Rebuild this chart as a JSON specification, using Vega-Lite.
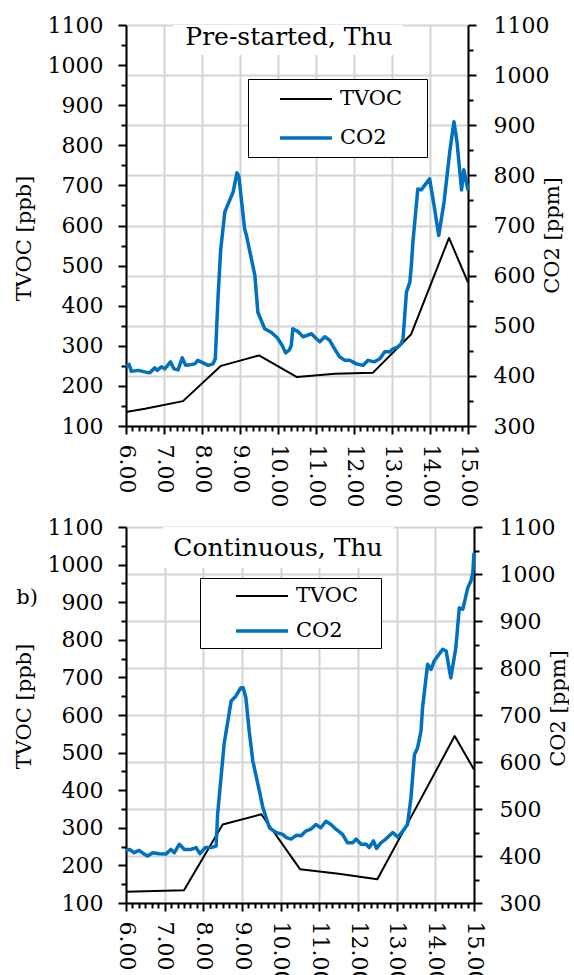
{
  "$schema": "https://vega.github.io/schema/vega-lite/v6.json",
  "background": "white",
  "padding": {"left": 13, "top": 14, "right": 0, "bottom": 0},
  "spacing": 9,
  "config": {
    "font": "DejaVu Serif",
    "view": {"stroke": null},
    "axis": {
      "labelFont": "DejaVu Serif", "labelFontSize": 22, "labelColor": "black",
      "titleFont": "DejaVu Serif", "titleFontSize": 21, "titleFontWeight": "normal", "titleColor": "black",
      "domainColor": "black", "domainWidth": 2, "tickColor": "black", "tickWidth": 2,
      "gridColor": "#d4d4d4", "gridWidth": 2, "labelOverlap": false, "labelFlush": false
    },
    "line": {"strokeJoin": "round", "strokeCap": "butt"}
  },
  "datasets": {
    "blank": [{"k": 1}],
    "a_title": [{"t": "Pre-started, Thu"}],
    "b_title": [{"t": "Continuous, Thu"}],
    "b_label": [{"t": "b)"}],
    "a_tvoc": [
      {"h": 6.0, "v": 135, "s": "TVOC"}, {"h": 6.5, "v": 143, "s": "TVOC"}, {"h": 7.5, "v": 162, "s": "TVOC"},
      {"h": 8.5, "v": 250, "s": "TVOC"}, {"h": 9.5, "v": 276, "s": "TVOC"}, {"h": 10.5, "v": 222, "s": "TVOC"},
      {"h": 11.5, "v": 230, "s": "TVOC"}, {"h": 12.5, "v": 233, "s": "TVOC"}, {"h": 13.5, "v": 328, "s": "TVOC"},
      {"h": 14.5, "v": 569, "s": "TVOC"}, {"h": 15.0, "v": 458, "s": "TVOC"}
    ],
    "a_co2": [
      {"h": 6.00, "v": 418, "s": "CO2"}, {"h": 6.08, "v": 423, "s": "CO2"}, {"h": 6.14, "v": 409, "s": "CO2"},
      {"h": 6.32, "v": 411, "s": "CO2"}, {"h": 6.49, "v": 408, "s": "CO2"}, {"h": 6.62, "v": 406, "s": "CO2"},
      {"h": 6.76, "v": 416, "s": "CO2"}, {"h": 6.82, "v": 411, "s": "CO2"}, {"h": 6.93, "v": 418, "s": "CO2"},
      {"h": 7.02, "v": 414, "s": "CO2"}, {"h": 7.17, "v": 428, "s": "CO2"}, {"h": 7.26, "v": 414, "s": "CO2"},
      {"h": 7.37, "v": 412, "s": "CO2"}, {"h": 7.48, "v": 436, "s": "CO2"}, {"h": 7.57, "v": 421, "s": "CO2"},
      {"h": 7.68, "v": 422, "s": "CO2"}, {"h": 7.81, "v": 424, "s": "CO2"}, {"h": 7.89, "v": 431, "s": "CO2"},
      {"h": 8.03, "v": 426, "s": "CO2"}, {"h": 8.16, "v": 421, "s": "CO2"}, {"h": 8.29, "v": 424, "s": "CO2"},
      {"h": 8.35, "v": 434, "s": "CO2"}, {"h": 8.42, "v": 554, "s": "CO2"}, {"h": 8.49, "v": 650, "s": "CO2"},
      {"h": 8.60, "v": 727, "s": "CO2"}, {"h": 8.82, "v": 767, "s": "CO2"}, {"h": 8.92, "v": 805, "s": "CO2"},
      {"h": 8.97, "v": 798, "s": "CO2"}, {"h": 9.12, "v": 694, "s": "CO2"}, {"h": 9.17, "v": 680, "s": "CO2"},
      {"h": 9.39, "v": 601, "s": "CO2"}, {"h": 9.47, "v": 527, "s": "CO2"}, {"h": 9.65, "v": 494, "s": "CO2"},
      {"h": 9.82, "v": 487, "s": "CO2"}, {"h": 9.98, "v": 476, "s": "CO2"}, {"h": 10.10, "v": 462, "s": "CO2"},
      {"h": 10.20, "v": 446, "s": "CO2"}, {"h": 10.30, "v": 452, "s": "CO2"}, {"h": 10.35, "v": 461, "s": "CO2"},
      {"h": 10.39, "v": 494, "s": "CO2"}, {"h": 10.53, "v": 488, "s": "CO2"}, {"h": 10.66, "v": 478, "s": "CO2"},
      {"h": 10.88, "v": 484, "s": "CO2"}, {"h": 11.01, "v": 474, "s": "CO2"}, {"h": 11.10, "v": 468, "s": "CO2"},
      {"h": 11.23, "v": 478, "s": "CO2"}, {"h": 11.36, "v": 471, "s": "CO2"}, {"h": 11.49, "v": 454, "s": "CO2"},
      {"h": 11.62, "v": 438, "s": "CO2"}, {"h": 11.76, "v": 431, "s": "CO2"}, {"h": 11.89, "v": 431, "s": "CO2"},
      {"h": 12.06, "v": 424, "s": "CO2"}, {"h": 12.24, "v": 421, "s": "CO2"}, {"h": 12.37, "v": 431, "s": "CO2"},
      {"h": 12.54, "v": 428, "s": "CO2"}, {"h": 12.68, "v": 434, "s": "CO2"}, {"h": 12.81, "v": 448, "s": "CO2"},
      {"h": 12.94, "v": 448, "s": "CO2"}, {"h": 13.03, "v": 454, "s": "CO2"}, {"h": 13.16, "v": 458, "s": "CO2"},
      {"h": 13.24, "v": 464, "s": "CO2"}, {"h": 13.29, "v": 474, "s": "CO2"}, {"h": 13.38, "v": 567, "s": "CO2"},
      {"h": 13.47, "v": 587, "s": "CO2"}, {"h": 13.51, "v": 621, "s": "CO2"}, {"h": 13.55, "v": 667, "s": "CO2"},
      {"h": 13.68, "v": 773, "s": "CO2"}, {"h": 13.77, "v": 771, "s": "CO2"}, {"h": 13.99, "v": 793, "s": "CO2"},
      {"h": 14.12, "v": 734, "s": "CO2"}, {"h": 14.23, "v": 680, "s": "CO2"}, {"h": 14.37, "v": 747, "s": "CO2"},
      {"h": 14.52, "v": 847, "s": "CO2"}, {"h": 14.63, "v": 907, "s": "CO2"}, {"h": 14.71, "v": 867, "s": "CO2"},
      {"h": 14.83, "v": 771, "s": "CO2"}, {"h": 14.89, "v": 811, "s": "CO2"}, {"h": 15.00, "v": 770, "s": "CO2"}
    ],
    "b_tvoc": [
      {"h": 6.0, "v": 130, "s": "TVOC"}, {"h": 6.5, "v": 131, "s": "TVOC"}, {"h": 7.5, "v": 134, "s": "TVOC"},
      {"h": 8.5, "v": 309, "s": "TVOC"}, {"h": 9.5, "v": 336, "s": "TVOC"}, {"h": 10.5, "v": 190, "s": "TVOC"},
      {"h": 11.5, "v": 178, "s": "TVOC"}, {"h": 12.5, "v": 163, "s": "TVOC"}, {"h": 13.5, "v": 353, "s": "TVOC"},
      {"h": 14.5, "v": 544, "s": "TVOC"}, {"h": 15.0, "v": 455, "s": "TVOC"}
    ],
    "b_co2": [
      {"h": 6.00, "v": 411, "s": "CO2"}, {"h": 6.09, "v": 414, "s": "CO2"}, {"h": 6.21, "v": 407, "s": "CO2"},
      {"h": 6.34, "v": 412, "s": "CO2"}, {"h": 6.45, "v": 405, "s": "CO2"}, {"h": 6.56, "v": 400, "s": "CO2"},
      {"h": 6.69, "v": 407, "s": "CO2"}, {"h": 6.86, "v": 405, "s": "CO2"}, {"h": 7.03, "v": 404, "s": "CO2"},
      {"h": 7.16, "v": 414, "s": "CO2"}, {"h": 7.25, "v": 407, "s": "CO2"}, {"h": 7.38, "v": 425, "s": "CO2"},
      {"h": 7.51, "v": 414, "s": "CO2"}, {"h": 7.68, "v": 414, "s": "CO2"}, {"h": 7.81, "v": 418, "s": "CO2"},
      {"h": 7.91, "v": 405, "s": "CO2"}, {"h": 8.05, "v": 418, "s": "CO2"}, {"h": 8.20, "v": 418, "s": "CO2"},
      {"h": 8.33, "v": 421, "s": "CO2"}, {"h": 8.37, "v": 489, "s": "CO2"}, {"h": 8.54, "v": 640, "s": "CO2"},
      {"h": 8.72, "v": 730, "s": "CO2"}, {"h": 8.84, "v": 740, "s": "CO2"}, {"h": 8.97, "v": 758, "s": "CO2"},
      {"h": 9.03, "v": 758, "s": "CO2"}, {"h": 9.10, "v": 737, "s": "CO2"}, {"h": 9.19, "v": 663, "s": "CO2"},
      {"h": 9.28, "v": 602, "s": "CO2"}, {"h": 9.45, "v": 538, "s": "CO2"}, {"h": 9.54, "v": 503, "s": "CO2"},
      {"h": 9.71, "v": 460, "s": "CO2"}, {"h": 9.88, "v": 450, "s": "CO2"}, {"h": 10.05, "v": 446, "s": "CO2"},
      {"h": 10.15, "v": 439, "s": "CO2"}, {"h": 10.27, "v": 436, "s": "CO2"}, {"h": 10.40, "v": 444, "s": "CO2"},
      {"h": 10.53, "v": 443, "s": "CO2"}, {"h": 10.65, "v": 453, "s": "CO2"}, {"h": 10.78, "v": 457, "s": "CO2"},
      {"h": 10.91, "v": 467, "s": "CO2"}, {"h": 11.04, "v": 460, "s": "CO2"}, {"h": 11.17, "v": 474, "s": "CO2"},
      {"h": 11.30, "v": 467, "s": "CO2"}, {"h": 11.43, "v": 457, "s": "CO2"}, {"h": 11.60, "v": 446, "s": "CO2"},
      {"h": 11.73, "v": 428, "s": "CO2"}, {"h": 11.86, "v": 428, "s": "CO2"}, {"h": 11.95, "v": 436, "s": "CO2"},
      {"h": 12.08, "v": 425, "s": "CO2"}, {"h": 12.21, "v": 425, "s": "CO2"}, {"h": 12.29, "v": 418, "s": "CO2"},
      {"h": 12.40, "v": 432, "s": "CO2"}, {"h": 12.48, "v": 416, "s": "CO2"}, {"h": 12.59, "v": 428, "s": "CO2"},
      {"h": 12.72, "v": 436, "s": "CO2"}, {"h": 12.90, "v": 450, "s": "CO2"}, {"h": 13.03, "v": 440, "s": "CO2"},
      {"h": 13.16, "v": 453, "s": "CO2"}, {"h": 13.28, "v": 467, "s": "CO2"}, {"h": 13.37, "v": 524, "s": "CO2"},
      {"h": 13.46, "v": 616, "s": "CO2"}, {"h": 13.54, "v": 630, "s": "CO2"}, {"h": 13.63, "v": 666, "s": "CO2"},
      {"h": 13.67, "v": 716, "s": "CO2"}, {"h": 13.80, "v": 808, "s": "CO2"}, {"h": 13.89, "v": 797, "s": "CO2"},
      {"h": 13.97, "v": 815, "s": "CO2"}, {"h": 14.19, "v": 840, "s": "CO2"}, {"h": 14.28, "v": 836, "s": "CO2"},
      {"h": 14.40, "v": 779, "s": "CO2"}, {"h": 14.53, "v": 843, "s": "CO2"}, {"h": 14.62, "v": 928, "s": "CO2"},
      {"h": 14.71, "v": 925, "s": "CO2"}, {"h": 14.84, "v": 971, "s": "CO2"}, {"h": 14.92, "v": 985, "s": "CO2"},
      {"h": 14.97, "v": 1003, "s": "CO2"}, {"h": 15.00, "v": 1045, "s": "CO2"}
    ]
  },
  "resolve": {"scale": {"color": "independent", "strokeWidth": "independent", "x": "independent", "y": "independent"}, "legend": {"color": "independent", "strokeWidth": "independent"}},
  "vconcat": [
    {
      "width": 342, "height": 401,
      "resolve": {"scale": {"y": "independent"}},
      "layer": [
        {
          "data": {"name": "blank"},
          "mark": {"type": "rect", "fill": "white"},
          "encoding": {
            "x": {"datum": 7.24, "type": "quantitative", "scale": {"domain": [6, 15], "nice": false}, "title": null},
            "x2": {"datum": 13.29},
            "y": {"datum": 1100, "type": "quantitative", "scale": {"domain": [100, 1100], "nice": false}, "axis": null},
            "y2": {"datum": 1025}
          }
        },
        {
          "data": {"name": "a_title"},
          "mark": {"type": "text", "fontSize": 25, "font": "DejaVu Serif", "baseline": "alphabetic", "align": "center", "color": "black"},
          "encoding": {
            "x": {"datum": 10.29, "type": "quantitative", "title": null},
            "y": {"datum": 1050, "type": "quantitative", "scale": {"domain": [100, 1100], "nice": false}, "axis": null},
            "text": {"field": "t"}
          }
        },
        {
          "data": {"name": "a_tvoc"},
          "mark": {"type": "line"},
          "encoding": {
            "x": {"field": "h", "type": "quantitative", "scale": {"domain": [6, 15], "nice": false},
              "axis": {
                "title": null, "grid": true, "labelOverlap": false, "labelFlush": false, "labelBound": false, "tickCount": 200,
                "values": [6,6.1667,6.3333,6.5,6.6667,6.8333,7,7.1667,7.3333,7.5,7.6667,7.8333,8,8.1667,8.3333,8.5,8.6667,8.8333,9,9.1667,9.3333,9.5,9.6667,9.8333,10,10.1667,10.3333,10.5,10.6667,10.8333,11,11.1667,11.3333,11.5,11.6667,11.8333,12,12.1667,12.3333,12.5,12.6667,12.8333,13,13.1667,13.3333,13.5,13.6667,13.8333,14,14.1667,14.3333,14.5,14.6667,14.8333,15],
                "labelExpr": "abs(datum.value - round(datum.value)) < 0.01 ? format(datum.value, '.2f') : ''",
                "labelAngle": 90, "labelPadding": 10,
                "tickSize": {"condition": {"test": "abs(datum.value - round(datum.value)) < 0.01", "value": 8}, "value": 5},
                "gridOpacity": {"condition": {"test": "abs(datum.value - round(datum.value)) < 0.01", "value": 1}, "value": 0}
              }
            },
            "y": {"field": "v", "type": "quantitative", "scale": {"domain": [100, 1100], "nice": false},
              "axis": {
                "orient": "left", "grid": false, "title": "TVOC [ppb]", "titlePadding": 13, "titleY": 213, "labelOverlap": false, "tickCount": 200,
                "values": [100,150,200,250,300,350,400,450,500,550,600,650,700,750,800,850,900,950,1000,1050,1100],
                "format": "d",
                "labelExpr": "datum.value % 100 === 0 ? datum.label : ''",
                "labelPadding": 15,
                "tickSize": {"condition": {"test": "datum.value % 100 === 0", "value": 8}, "value": 5}
              }
            },
            "color": {"field": "s", "type": "nominal",
              "scale": {"domain": ["TVOC", "CO2"], "range": ["black", "#0070C0"]},
              "legend": {
                "orient": "none", "legendX": 122, "legendY": 54, "title": null,
                "symbolType": "M-2.6,0H2.6", "symbolSize": 400, "symbolOffset": 37,
                "labelOffset": 22, "labelFontSize": 21, "labelFont": "DejaVu Serif", "labelColor": "black",
                "padding": 9, "rowPadding": 17, "strokeColor": "black", "fillColor": "white",
                "labelExpr": "datum.label + '\u2800'"
              }
            },
            "strokeWidth": {"field": "s", "type": "nominal",
              "scale": {"type": "point", "padding": 0, "domain": ["TVOC", "CO2"], "range": [2, 3.5]}}
          }
        },
        {
          "data": {"name": "a_co2"},
          "mark": {"type": "line"},
          "encoding": {
            "x": {"field": "h", "type": "quantitative", "title": null},
            "y": {"field": "v", "type": "quantitative", "scale": {"domain": [300, 1100], "nice": false},
              "axis": {
                "orient": "right", "grid": true, "title": "CO2 [ppm]", "titleAngle": 270, "titleBaseline": "top", "titlePadding": -7, "titleY": 210, "labelOverlap": false, "tickCount": 200,
                "values": [300,350,400,450,500,550,600,650,700,750,800,850,900,950,1000,1050,1100],
                "format": "d",
                "labelExpr": "datum.value % 100 === 0 ? datum.label : ''",
                "labelPadding": 17,
                "tickSize": {"condition": {"test": "datum.value % 100 === 0", "value": 8}, "value": 5},
                "gridOpacity": {"condition": {"test": "datum.value % 100 === 0", "value": 1}, "value": 0}
              }
            },
            "color": {"field": "s", "type": "nominal"},
            "strokeWidth": {"field": "s", "type": "nominal"}
          }
        }
      ]
    },
    {
      "width": 348, "height": 376,
      "resolve": {"scale": {"y": "independent"}},
      "layer": [
        {
          "data": {"name": "blank"},
          "mark": {"type": "rect", "fill": "white"},
          "encoding": {
            "x": {"datum": 6.96, "type": "quantitative", "scale": {"domain": [6, 15], "nice": false}, "title": null},
            "x2": {"datum": 12.93},
            "y": {"datum": 1100, "type": "quantitative", "scale": {"domain": [100, 1100], "nice": false}, "axis": null},
            "y2": {"datum": 991}
          }
        },
        {
          "data": {"name": "b_title"},
          "mark": {"type": "text", "fontSize": 25, "font": "DejaVu Serif", "baseline": "alphabetic", "align": "center", "color": "black"},
          "encoding": {
            "x": {"datum": 9.93, "type": "quantitative", "title": null},
            "y": {"datum": 1023, "type": "quantitative", "scale": {"domain": [100, 1100], "nice": false}, "axis": null},
            "text": {"field": "t"}
          }
        },
        {
          "data": {"name": "b_label"},
          "mark": {"type": "text", "fontSize": 21, "font": "DejaVu Serif", "baseline": "middle", "align": "center", "color": "black"},
          "encoding": {
            "x": {"datum": 3.44, "type": "quantitative", "title": null},
            "y": {"datum": 911, "type": "quantitative", "scale": {"domain": [100, 1100], "nice": false}, "axis": null},
            "text": {"field": "t"}
          }
        },
        {
          "data": {"name": "b_tvoc"},
          "mark": {"type": "line"},
          "encoding": {
            "x": {"field": "h", "type": "quantitative", "scale": {"domain": [6, 15], "nice": false},
              "axis": {
                "title": null, "grid": true, "labelOverlap": false, "labelFlush": false, "labelBound": false, "tickCount": 200,
                "values": [6,6.1667,6.3333,6.5,6.6667,6.8333,7,7.1667,7.3333,7.5,7.6667,7.8333,8,8.1667,8.3333,8.5,8.6667,8.8333,9,9.1667,9.3333,9.5,9.6667,9.8333,10,10.1667,10.3333,10.5,10.6667,10.8333,11,11.1667,11.3333,11.5,11.6667,11.8333,12,12.1667,12.3333,12.5,12.6667,12.8333,13,13.1667,13.3333,13.5,13.6667,13.8333,14,14.1667,14.3333,14.5,14.6667,14.8333,15],
                "labelExpr": "abs(datum.value - round(datum.value)) < 0.01 ? format(datum.value, '.2f') : ''",
                "labelAngle": 90, "labelPadding": 10,
                "tickSize": {"condition": {"test": "abs(datum.value - round(datum.value)) < 0.01", "value": 8}, "value": 5},
                "gridOpacity": {"condition": {"test": "abs(datum.value - round(datum.value)) < 0.01", "value": 1}, "value": 0}
              }
            },
            "y": {"field": "v", "type": "quantitative", "scale": {"domain": [100, 1100], "nice": false},
              "axis": {
                "orient": "left", "grid": false, "title": "TVOC [ppb]", "titlePadding": 13, "titleY": 179, "labelOverlap": false, "tickCount": 200,
                "values": [100,150,200,250,300,350,400,450,500,550,600,650,700,750,800,850,900,950,1000,1050,1100],
                "format": "d",
                "labelExpr": "datum.value % 100 === 0 ? datum.label : ''",
                "labelPadding": 15,
                "tickSize": {"condition": {"test": "datum.value % 100 === 0", "value": 8}, "value": 5}
              }
            },
            "color": {"field": "s", "type": "nominal",
              "scale": {"domain": ["TVOC", "CO2"], "range": ["black", "#0070C0"]},
              "legend": {
                "orient": "none", "legendX": 74, "legendY": 51, "title": null,
                "symbolType": "M-2.6,0H2.6", "symbolSize": 400, "symbolOffset": 43,
                "labelOffset": 22, "labelFontSize": 21, "labelFont": "DejaVu Serif", "labelColor": "black",
                "padding": 7, "rowPadding": 13, "strokeColor": "black", "fillColor": "white",
                "labelExpr": "datum.label + '\u2800'"
              }
            },
            "strokeWidth": {"field": "s", "type": "nominal",
              "scale": {"type": "point", "padding": 0, "domain": ["TVOC", "CO2"], "range": [2, 3.5]}}
          }
        },
        {
          "data": {"name": "b_co2"},
          "mark": {"type": "line"},
          "encoding": {
            "x": {"field": "h", "type": "quantitative", "title": null},
            "y": {"field": "v", "type": "quantitative", "scale": {"domain": [300, 1100], "nice": false},
              "axis": {
                "orient": "right", "grid": true, "title": "CO2 [ppm]", "titleAngle": 270, "titleBaseline": "top", "titlePadding": -7, "titleY": 181, "labelOverlap": false, "tickCount": 200,
                "values": [300,350,400,450,500,550,600,650,700,750,800,850,900,950,1000,1050,1100],
                "format": "d",
                "labelExpr": "datum.value % 100 === 0 ? datum.label : ''",
                "labelPadding": 17,
                "tickSize": {"condition": {"test": "datum.value % 100 === 0", "value": 8}, "value": 5},
                "gridOpacity": {"condition": {"test": "datum.value % 100 === 0", "value": 1}, "value": 0}
              }
            },
            "color": {"field": "s", "type": "nominal"},
            "strokeWidth": {"field": "s", "type": "nominal"}
          }
        }
      ]
    }
  ]
}
